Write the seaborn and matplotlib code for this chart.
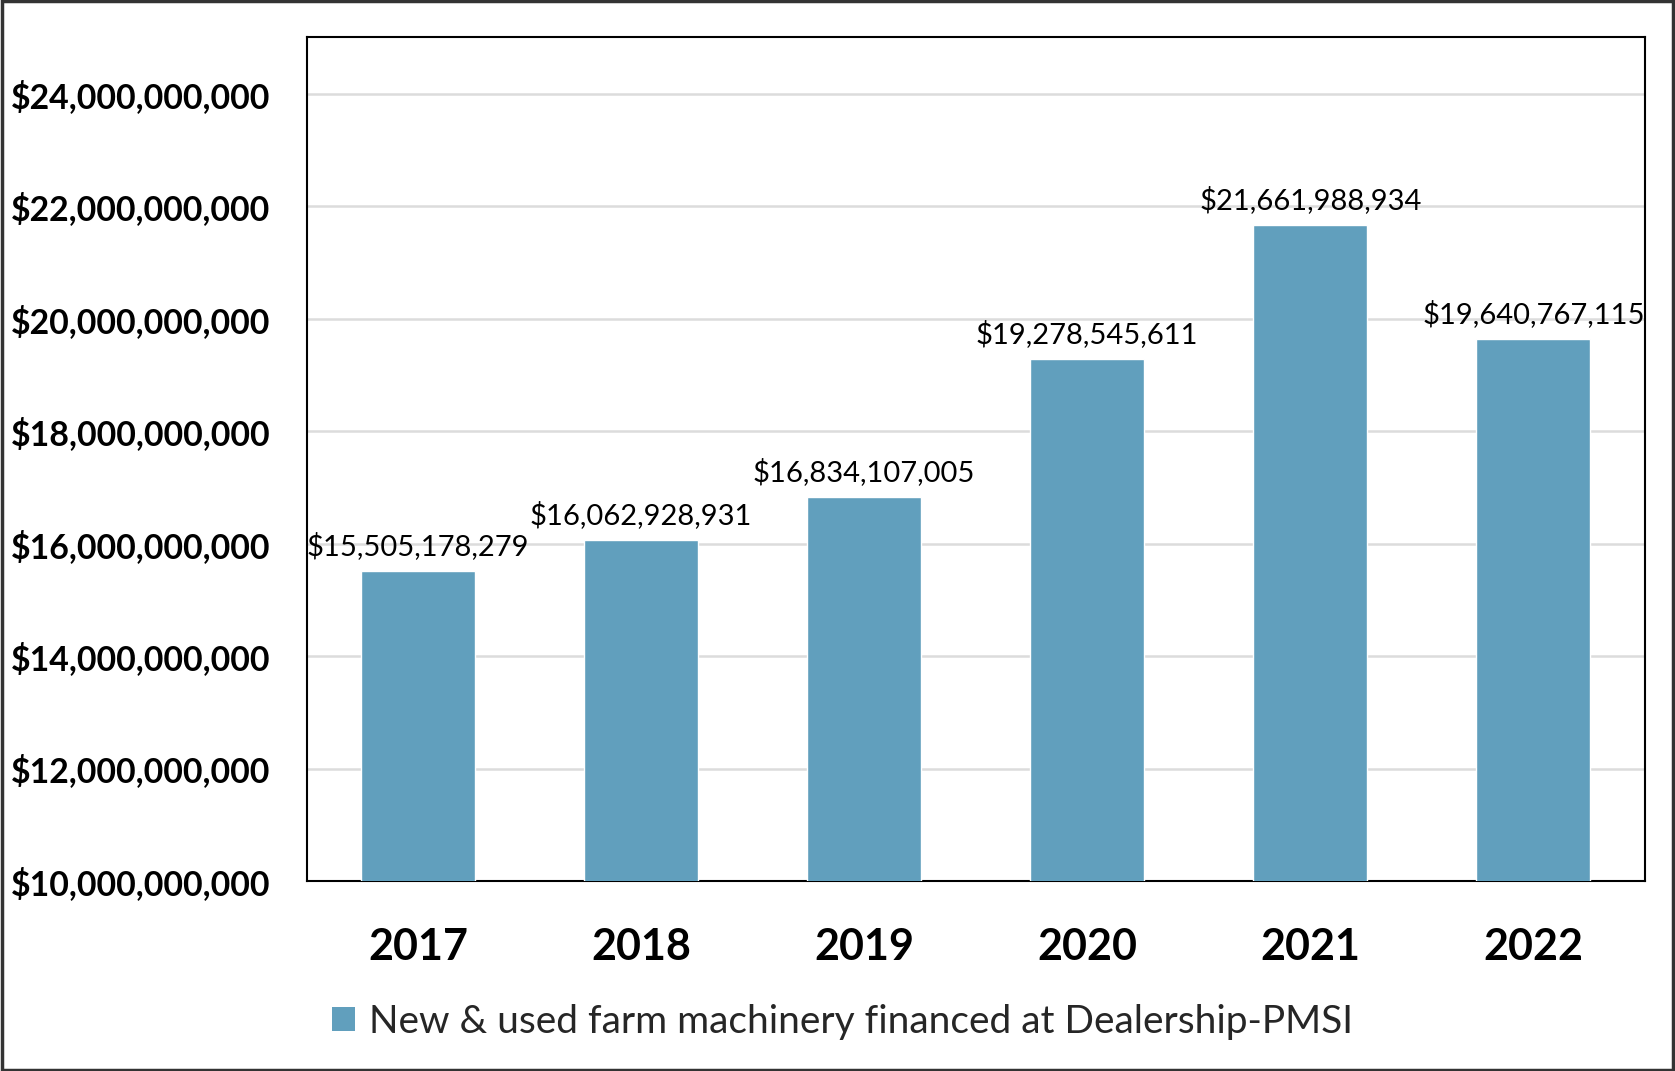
import matplotlib
matplotlib.use("Agg")
import matplotlib.pyplot as plt
import seaborn as sns
import pandas as pd
from matplotlib.patches import Rectangle, Patch
from matplotlib.ticker import FuncFormatter

years = ["2017", "2018", "2019", "2020", "2021", "2022"]
values = [15505178279, 16062928931, 16834107005, 19278545611, 21661988934, 19640767115]
series_name = "New & used farm machinery financed at Dealership-PMSI"
y_ticks = [10e9, 12e9, 14e9, 16e9, 18e9, 20e9, 22e9, 24e9]

df = pd.DataFrame({"year": years, "value": values, "series": series_name})

sns.set_theme(style="white")
plt.rcParams["font.family"] = ["Lato", "DejaVu Sans"]

bar_color = "#619FBD"

fig = plt.figure(figsize=(16.75, 10.71), dpi=100)
fig.patch.set_facecolor("white")
ax = fig.add_axes([0.183, 0.1774, 0.799, 0.7876])

sns.barplot(data=df, x="year", y="value", color=bar_color, width=0.51,
            saturation=1, ax=ax, zorder=3)

ax.set_ylim(10e9, 25e9)
ax.set_xlim(-0.5, 5.5)
ax.set_yticks(y_ticks)
ax.yaxis.set_major_formatter(FuncFormatter(lambda v, p: "${:,.0f}".format(v)))
ax.grid(axis="y", color="#dcdcdc", linewidth=1.8, zorder=0)
ax.set_axisbelow(True)
ax.set_xlabel("")
ax.set_ylabel("")

for lab in ax.get_yticklabels():
    lab.set_fontsize(24.4)
    lab.set_fontweight("bold")
    lab.set_color("black")
for lab in ax.get_xticklabels():
    lab.set_fontsize(31)
    lab.set_fontweight("bold")
    lab.set_color("black")
ax.tick_params(axis="y", length=0, pad=26)
ax.tick_params(axis="x", length=0, pad=33)

for sp in ax.spines.values():
    sp.set_visible(True)
    sp.set_color("black")
    sp.set_linewidth(1.5)

for i, v in enumerate(values):
    ax.annotate("${:,.0f}".format(v), xy=(i, v), xytext=(0, 8),
                textcoords="offset points", ha="center", va="bottom",
                fontsize=21, color="black")

handle = Patch(facecolor=bar_color, edgecolor="none")
fig.legend([handle], [series_name], loc="center", bbox_to_anchor=(0.503, 0.046),
           frameon=False, fontsize=28, handlelength=0.6, handleheight=0.6,
           handletextpad=0.35)

fig.patches.append(Rectangle((0.001, 0.001), 0.998, 0.998, transform=fig.transFigure,
                             fill=False, edgecolor="#333333", linewidth=2.5))

fig.savefig("out.png", dpi=100, facecolor=fig.get_facecolor())
